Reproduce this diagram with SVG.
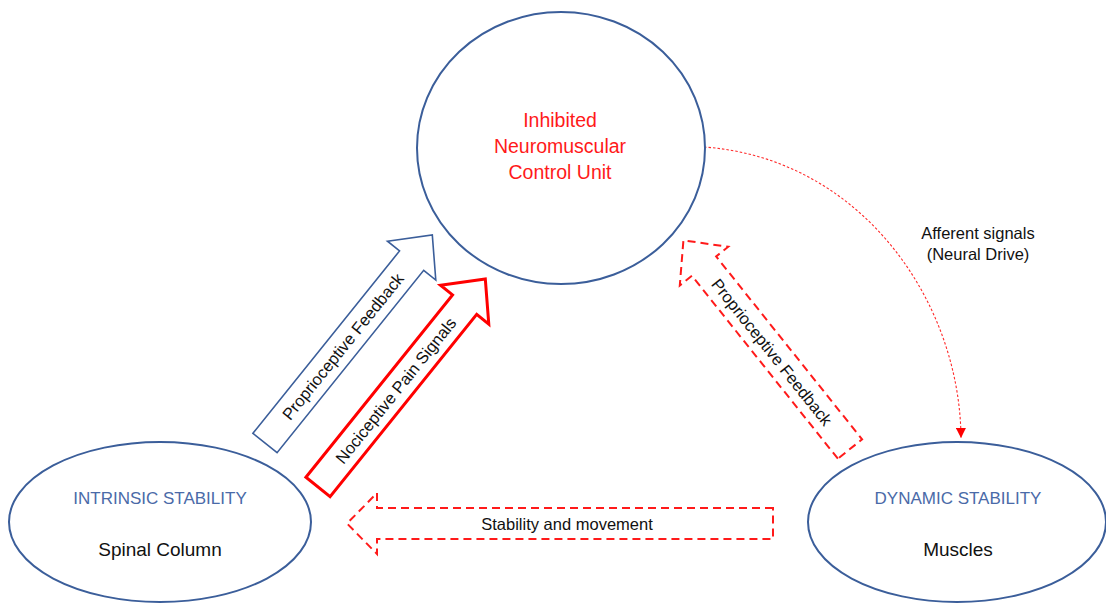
<svg xmlns="http://www.w3.org/2000/svg" width="1106" height="603" viewBox="0 0 1106 603">
  <style>
    .node { fill: #ffffff; stroke: #3b5e9a; stroke-width: 2; }
    .title { font-family: "Liberation Sans", Arial, sans-serif; font-size: 17px; fill: #4a6aa8; text-anchor: middle; }
    .sub { font-family: "Liberation Sans", Arial, sans-serif; font-size: 19px; fill: #111111; text-anchor: middle; }
    .red { font-family: "Liberation Sans", Arial, sans-serif; font-size: 19.5px; fill: #ff1a1a; text-anchor: middle; }
    .lbl { font-family: "Liberation Sans", Arial, sans-serif; font-size: 16.5px; fill: #111111; text-anchor: middle; }
    .blk-blue { fill: #ffffff; stroke: #3b5e9a; stroke-width: 1.6; stroke-linejoin: miter; }
    .blk-red { fill: #ffffff; stroke: #ff0000; stroke-width: 3; stroke-linejoin: miter; }
    .blk-dash { fill: none; stroke: #ff1a1a; stroke-width: 2; stroke-dasharray: 8 5; }
    .curve { fill: none; stroke: #ff2a2a; stroke-width: 1.1; stroke-dasharray: 2.5 2; }
  </style>
  <defs>
    <marker id="tri" viewBox="0 0 10 10" refX="10" refY="5" markerWidth="10" markerHeight="10" markerUnits="userSpaceOnUse" orient="auto">
      <path d="M0,0 L10,5 L0,10 Z" fill="#ff0000"/>
    </marker>
    <!-- block arrow, tail centre at origin, pointing along +x -->
    <polygon id="blk" points="0,-15.5 234,-15.5 234,-31 267,0 234,31 234,15.5 0,15.5"/>
  </defs>

  <rect width="1106" height="603" fill="#ffffff"/>

  <g id="connectors">
    <!-- afferent signals curve -->
    <path class="curve" d="M704,147 C860,158 960,300 961,438" marker-end="url(#tri)"/>

    <!-- proprioceptive feedback from spinal column -->
    <g id="arrow-proprio-left">
      <use href="#blk" class="blk-blue" transform="translate(265,443) rotate(-51.2)"/>
      <text class="lbl" transform="translate(265,443) rotate(-51.2)" x="124" y="6">Proprioceptive Feedback</text>
    </g>

    <!-- nociceptive pain signals -->
    <g id="arrow-nociceptive">
      <use href="#blk" class="blk-red" transform="translate(318,487) rotate(-51.2)"/>
      <text class="lbl" transform="translate(318,487) rotate(-51.2)" x="124" y="6">Nociceptive Pain Signals</text>
    </g>

    <!-- proprioceptive feedback from muscles -->
    <g id="arrow-proprio-right">
      <use href="#blk" class="blk-dash" transform="translate(850,449) rotate(-128.6)"/>
      <text class="lbl" transform="translate(772,352) rotate(51.4)" x="0" y="6">Proprioceptive Feedback</text>
    </g>

    <!-- stability and movement -->
    <g id="arrow-stability">
      <polygon class="blk-dash" points="773,508 377,508 377,493 347,523.5 377,554 377,539 773,539"/>
      <text class="lbl" x="567" y="530">Stability and movement</text>
    </g>

    <text class="lbl" x="978" y="239">Afferent signals</text>
    <text class="lbl" x="978" y="260">(Neural Drive)</text>
  </g>

  <g id="node-control">
    <ellipse class="node" cx="561" cy="148" rx="144" ry="136"/>
    <text class="red" x="560" y="127">Inhibited</text>
    <text class="red" x="560" y="153">Neuromuscular</text>
    <text class="red" x="560" y="179">Control Unit</text>
  </g>

  <g id="node-intrinsic">
    <ellipse class="node" cx="160" cy="522" rx="151" ry="80"/>
    <text class="title" x="160" y="504">INTRINSIC STABILITY</text>
    <text class="sub" x="160" y="556">Spinal Column</text>
  </g>

  <g id="node-dynamic">
    <ellipse class="node" cx="957" cy="522" rx="149" ry="80"/>
    <text class="title" x="958" y="504">DYNAMIC STABILITY</text>
    <text class="sub" x="958" y="556">Muscles</text>
  </g>
</svg>
